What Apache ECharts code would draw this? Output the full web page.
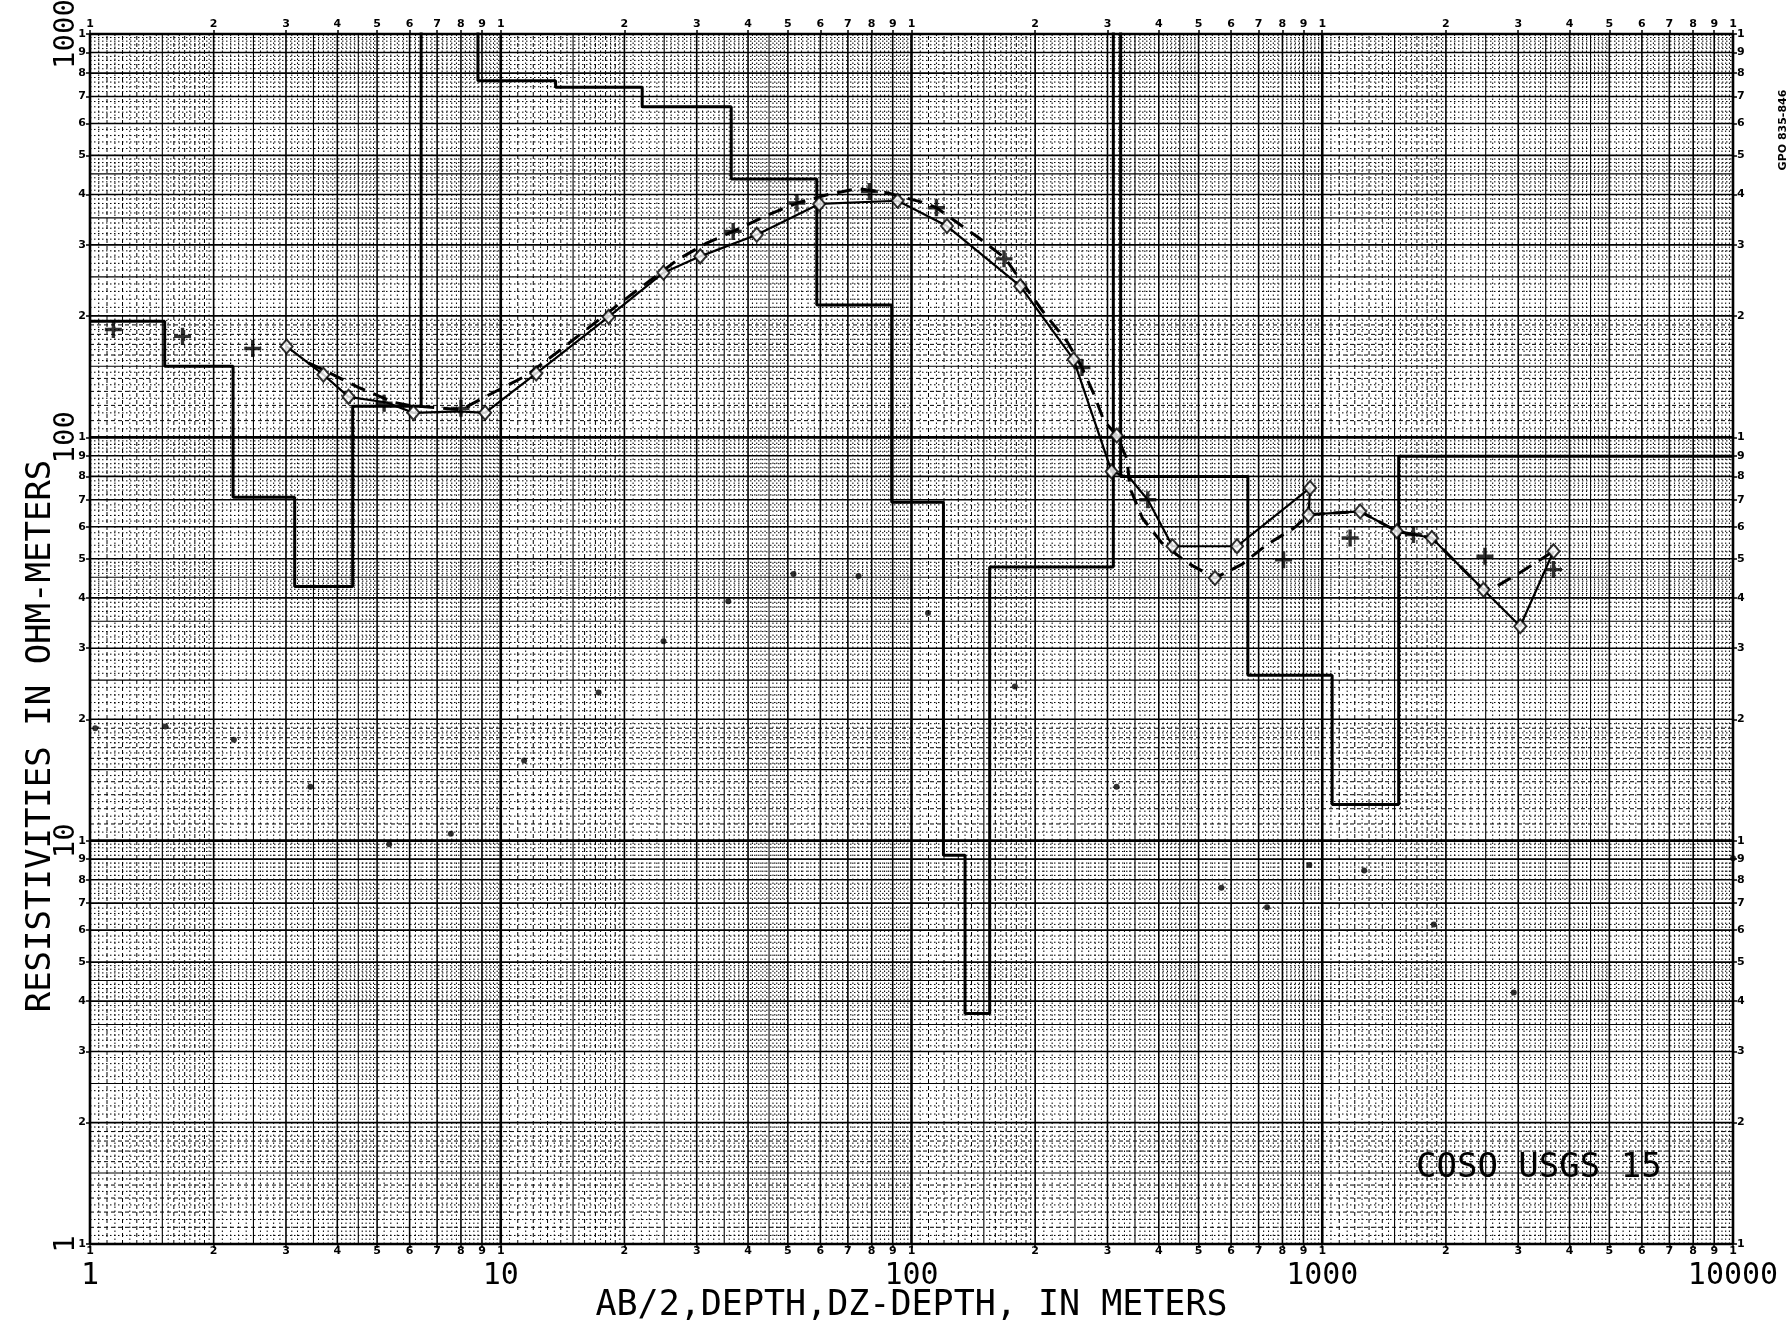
<!DOCTYPE html>
<html>
<head>
<meta charset="utf-8">
<title>COSO USGS 15</title>
<script src="https://cdn.jsdelivr.net/npm/echarts@6.0.0/dist/echarts.min.js"></script>
<style>
  html, body { margin: 0; padding: 0; background: #fff; }
  #chart { width: 1790px; height: 1329px; }
</style>
</head>
<body>
<div id="chart"></div>
<script>
// Sounding COSO USGS 15, plotted on 4 x 3 cycle log-log paper.

var xDecadeLabels = ['1', '10', '100', '1000', '10000'];
var yDecadeLabels = ['1', '10', '100', '1000'];
var cycleDigits = [1, 2, 3, 4, 5, 6, 7, 8, 9];

// layered model: bottom of each layer (m) and its resistivity (ohm-m)
var layerBottom = [1.52, 2.23, 3.15, 4.36, 6.4, 8.8, 13.6, 22.1, 36.4, 58.8, 89.5, 119.6, 135, 155, 310, 323, 659, 1057, 1535, 10000];
var layerRho    = [194, 150, 71, 42.7, 119.5, 3000, 766, 738, 660, 437, 213, 69, 9.2, 3.73, 47.7, 3000, 80, 25.7, 12.3, 89.8];

// field curve (solid line)
var obsAB  = [3.01, 3.70, 4.26, 5.28, 6.13, 7.96, 9.16, 12.2, 18.3, 24.9, 30.6, 42.0, 59.6, 92.5, 122, 184, 248, 307, 340, 376, 432, 620, 934, 926, 1237, 1519, 1848, 2469, 3034, 3656];
var obsRho = [168, 143, 126, 122, 115, 116, 115, 144, 199, 256, 281, 318, 379, 386, 334, 237, 156, 82.3, 79.3, 70.0, 53.7, 53.7, 74.9, 64.3, 65.5, 58.5, 56.3, 41.9, 34.0, 52.2];

// diamond marks
var diaAB  = [3.01, 3.70, 4.26, 6.13, 9.16, 12.2, 18.3, 24.9, 30.6, 42.0, 59.6, 92.5, 122, 184, 248, 316, 307, 432, 548, 620, 934, 926, 1237, 1519, 1848, 2469, 3034, 3656];
var diaRho = [168, 143, 126, 115, 115, 144, 199, 256, 281, 318, 379, 386, 334, 237, 156, 101, 82.3, 53.7, 44.8, 53.7, 74.9, 64.3, 65.5, 58.5, 56.3, 41.9, 34.0, 52.2];

// computed curve (dashed line)
var calcAB  = [3.40, 3.70, 4.50, 5.50, 6.0, 8.0, 9.3, 11.5, 14.0, 19.5, 27.0, 31.7, 36.8, 43.6, 52.6, 62.0, 74.0, 87.0, 106, 115, 146, 169, 209, 239, 260, 278, 294, 316, 335, 340, 365, 407, 470, 548, 637, 733, 854, 926, 1237, 1519, 1848, 2469, 2645, 3062, 3656];
var calcRho = [153, 147, 133, 122, 120, 117, 127, 142, 165, 215, 276, 303, 324, 352, 381, 399, 414, 404, 383, 371, 312, 278, 205, 173, 149, 128, 110, 101, 88, 75, 63, 54.7, 48.8, 44.8, 48.4, 54.2, 59.6, 64.3, 65.5, 58.5, 56.3, 41.9, 42.6, 46.5, 52.2];

// plus marks
var plusAB  = [1.14, 1.68, 2.49, 5.2, 8.0, 36.8, 52.6, 79, 115, 168, 260, 376, 805, 1169, 1667, 2489, 3656];
var plusRho = [185, 178, 166, 121.5, 118, 324, 381, 407, 371, 277, 149, 70, 49.7, 56.3, 57.4, 50.7, 47];

// DZ-depth dots
var dotDepth = [1.03, 1.526, 2.24, 3.44, 5.35, 7.56, 11.4, 17.3, 24.9, 35.8, 51.6, 74.3, 109.7, 178.5, 315.7, 568, 734, 930, 1265, 1870, 2926, 10000];
var dotRho   = [19.0, 19.2, 17.8, 13.6, 9.8, 10.4, 15.8, 23.3, 31.2, 39.2, 45.8, 45.3, 36.7, 24.1, 13.6, 7.64, 6.84, 8.70, 8.43, 6.20, 4.20, 9.05];


var X_MIN = 1, X_MAX = 10000, Y_MIN = 1, Y_MAX = 1000;
var INK = '#000';
var MONO = '"DejaVu Sans Mono", "Liberation Mono", monospace';

function zip(a, b) {
    return a.map(function (v, i) { return [v, b[i]]; });
}

function leadDigit(v) {
    var p = Math.pow(10, Math.floor(Math.log10(v) + 1e-9));
    return String(Math.round(v / p));
}

// 1,2,..9,10,20,..  up to the last decade
function cycleValues(decades) {
    var out = [];
    for (var i = 0; i < decades.length - 1; i++)
        cycleDigits.forEach(function (d) { out.push(d * decades[i]); });
    out.push(decades[decades.length - 1]);
    return out;
}

// graph paper rulings inside one cycle, cls: 0 decade, 1 integer, 2 half, 3 dashed, 4 dotted
function paperLines(decades) {
    var out = [];
    for (var i = 0; i < decades.length - 1; i++) {
        var b = decades[i];
        out.push({ v: b, cls: 0 });
        for (var m = 2; m <= 9; m++) out.push({ v: m * b, cls: 1 });
        for (var k = 105; k < 200; k += 5) {
            if (k % 10 == 5) out.push({ v: k / 100 * b, cls: 4 });
            else if (k == 150) out.push({ v: 1.5 * b, cls: 2 });
            else out.push({ v: k / 100 * b, cls: 3 });
        }
        for (var k = 21; k < 50; k++) {
            if (k % 10 == 0) continue;
            out.push({ v: k / 10 * b, cls: (k % 10 == 5) ? 2 : 4 });
        }
        for (var k = 52; k < 100; k += 2) {
            if (k % 10 == 0) continue;
            out.push({ v: k / 10 * b, cls: 4 });
        }
    }
    out.push({ v: decades[decades.length - 1], cls: 0 });
    return out;
}

var RULE_STYLE = [
    { stroke: INK, lineWidth: 2.6 },
    { stroke: INK, lineWidth: 1.6 },
    { stroke: INK, lineWidth: 1.1 },
    { stroke: INK, lineWidth: 1, lineDash: [4, 3] },
    { stroke: INK, lineWidth: 1, lineDash: [1.5, 2.5] }
];

var xDecades = xDecadeLabels.map(Number);
var yDecades = yDecadeLabels.map(Number);
var xCycle = cycleValues(xDecades);
var yCycle = cycleValues(yDecades);
var vRules = paperLines(xDecades);
var hRules = paperLines(yDecades);

// staircase of the layered model
var modelPts = [];
layerRho.forEach(function (r, i) {
    modelPts.push([i == 0 ? X_MIN : layerBottom[i - 1], r]);
    modelPts.push([layerBottom[i], r]);
});

function smallAxis(pos, margin, isY) {
    var vals = isY ? yCycle : xCycle;
    return {
        type: 'log', logBase: 10, position: pos,
        min: isY ? Y_MIN : X_MIN, max: isY ? Y_MAX : X_MAX,
        axisLine: { show: false },
        splitLine: { show: false },
        axisTick: { show: true, customValues: vals, length: 4, lineStyle: { color: INK, width: 1.5 } },
        axisLabel: {
            customValues: vals, margin: margin, color: INK,
            fontFamily: 'DejaVu Sans', fontSize: 11, fontWeight: 'bold',
            formatter: function (v) { return leadDigit(v); }
        }
    };
}

var chart = echarts.init(document.getElementById('chart'), null, { renderer: 'canvas' });

var option = {
    backgroundColor: '#fff',
    animation: false,
    title: {
        text: 'COSO USGS 15',
        left: 1416, top: 1151, padding: 0,
        textStyle: { fontFamily: MONO, fontSize: 34, fontWeight: 'normal', color: INK }
    },
    graphic: [{
        type: 'text', x: 1783, y: 130, rotation: Math.PI / 2,
        style: { text: 'GPO 835-846', font: 'bold 11px "DejaVu Sans"', fill: INK, align: 'center', verticalAlign: 'middle' }
    }],
    grid: { left: 90, right: 57, top: 34, bottom: 85, containLabel: false, outerBoundsMode: 'none' },
    xAxis: [
        {
            type: 'log', logBase: 10, position: 'bottom', min: X_MIN, max: X_MAX,
            axisLine: { show: false }, axisTick: { show: false }, splitLine: { show: false },
            axisLabel: {
                customValues: xDecades, margin: 17, color: INK,
                fontFamily: MONO, fontSize: 30,
                formatter: function (v) { return xDecadeLabels[xDecades.indexOf(v)] || String(v); }
            },
            name: 'AB/2,DEPTH,DZ-DEPTH, IN METERS',
            nameLocation: 'middle', nameGap: 44, nameMoveOverlap: false,
            nameTextStyle: { fontFamily: MONO, fontSize: 35, color: INK }
        },
        smallAxis('bottom', 2, false),
        smallAxis('top', 4, false)
    ],
    yAxis: [
        {
            type: 'log', logBase: 10, position: 'left', min: Y_MIN, max: Y_MAX,
            axisLine: { show: false }, axisTick: { show: false }, splitLine: { show: false },
            axisLabel: {
                customValues: yDecades, margin: 9, rotate: 90, color: INK,
                fontFamily: MONO, fontSize: 29,
                formatter: function (v) { return yDecadeLabels[yDecades.indexOf(v)] || String(v); }
            },
            name: 'RESISTIVITIES IN OHM-METERS',
            nameLocation: 'middle', nameGap: 32, nameMoveOverlap: false,
            nameTextStyle: { fontFamily: MONO, fontSize: 34, color: INK, padding: [0, 194, 0, 0] }
        },
        smallAxis('left', 4, true),
        smallAxis('right', 4, true)
    ],
    series: [
        {
            type: 'custom', silent: true, z: 1,
            data: vRules.map(function (g) { return [g.v, 10]; }),
            renderItem: function (params, api) {
                var g = vRules[params.dataIndex];
                var a = api.coord([g.v, Y_MIN]), b = api.coord([g.v, Y_MAX]);
                return { type: 'line', shape: { x1: a[0], y1: a[1], x2: b[0], y2: b[1] }, style: RULE_STYLE[g.cls] };
            }
        },
        {
            type: 'custom', silent: true, z: 1,
            data: hRules.map(function (g) { return [10, g.v]; }),
            renderItem: function (params, api) {
                var g = hRules[params.dataIndex];
                var a = api.coord([X_MIN, g.v]), b = api.coord([X_MAX, g.v]);
                return { type: 'line', shape: { x1: a[0], y1: a[1], x2: b[0], y2: b[1] }, style: RULE_STYLE[g.cls] };
            }
        },
        {
            name: 'model', type: 'line', z: 3, clip: true,
            data: modelPts, symbol: 'none',
            lineStyle: { color: INK, width: 3 }
        },
        {
            name: 'computed', type: 'line', z: 4,
            data: zip(calcAB, calcRho), symbol: 'none',
            lineStyle: { color: INK, width: 3, type: [15, 9], cap: 'butt' }
        },
        {
            name: 'field', type: 'line', z: 4,
            data: zip(obsAB, obsRho), symbol: 'none',
            lineStyle: { color: INK, width: 2.2 }
        },
        {
            name: 'diamonds', type: 'scatter', z: 5,
            data: zip(diaAB, diaRho), symbol: 'diamond', symbolSize: [12, 14],
            itemStyle: { color: '#fff', borderColor: INK, borderWidth: 2 }
        },
        {
            name: 'plus', type: 'scatter', z: 6,
            data: zip(plusAB, plusRho),
            symbol: 'path://M4,0h2v4h4v2h-4v4h-2v-4h-4v-2h4z', symbolSize: 17,
            itemStyle: { color: INK }
        },
        {
            name: 'dz-depth', type: 'scatter', z: 6,
            data: zip(dotDepth, dotRho), symbol: 'circle', symbolSize: 6,
            itemStyle: { color: INK }
        }
    ]
};

chart.setOption(option);
</script>
</body>
</html>
